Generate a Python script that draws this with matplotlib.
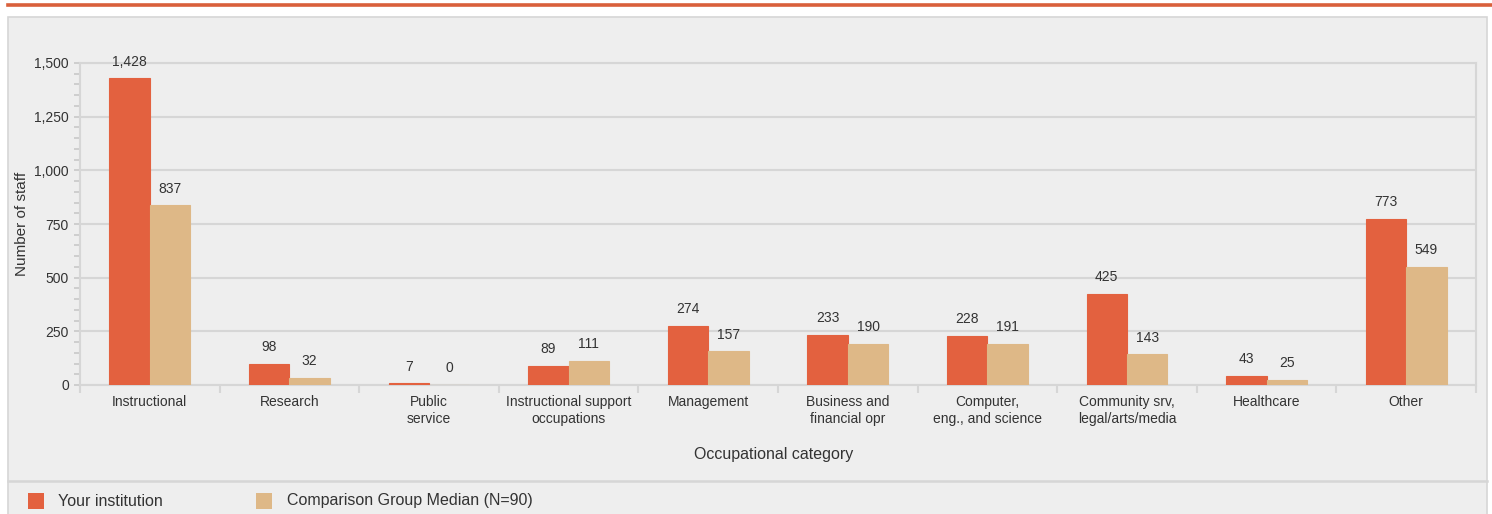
import matplotlib.pyplot as plt
from matplotlib.patches import Rectangle
from matplotlib.lines import Line2D
from matplotlib.ticker import FuncFormatter, MultipleLocator
import numpy as np

plt.rcParams['font.family'] = ['Liberation Sans', 'DejaVu Sans']

# --- data ---
categories = ['Instructional', 'Research', 'Public\nservice', 'Instructional support\noccupations',
              'Management', 'Business and\nfinancial opr', 'Computer,\neng., and science',
              'Community srv,\nlegal/arts/media', 'Healthcare', 'Other']
your_inst = [1428, 98, 7, 89, 274, 233, 228, 425, 43, 773]
comp_median = [837, 32, 0, 111, 157, 190, 191, 143, 25, 549]
series_names = ['Your institution', 'Comparison Group Median (N=90)']

RED = '#E3613F'
TAN = '#DEB887'
PANEL = '#EEEEEE'
LINE = '#D6D6D6'
TXT = '#333333'

W, H = 1492, 514
fig = plt.figure(figsize=(W / 100, H / 100), dpi=100)
fig.patch.set_facecolor('white')

# top accent line and grey panel (kept behind the axes)
fig.add_artist(Line2D([8 / W, 1], [1 - 4.5 / H, 1 - 4.5 / H], color='#D9603B', lw=2.6,
                      transform=fig.transFigure, zorder=-5))
fig.add_artist(Rectangle((8 / W, -0.01), (1487 - 8) / W, (H - 17) / H + 0.01,
                         transform=fig.transFigure, facecolor=PANEL, edgecolor=LINE, lw=1.2,
                         zorder=-5))
fig.add_artist(Line2D([8 / W, 1487 / W], [1 - 481 / H, 1 - 481 / H], color=LINE, lw=1.8,
                      transform=fig.transFigure, zorder=-4))

ax = fig.add_axes([80 / W, (H - 385) / H, 1396 / W, 322 / H])
ax.set_facecolor(PANEL)

x = np.arange(len(categories)) + 0.5
bw = 0.29
b1 = ax.bar(x - bw / 2, your_inst, bw, color=RED, edgecolor=RED, lw=0.8, zorder=3)
b2 = ax.bar(x + bw / 2, comp_median, bw, color=TAN, edgecolor=TAN, lw=0.8, zorder=3)

for bars, vals in ((b1, your_inst), (b2, comp_median)):
    for r, v in zip(bars, vals):
        ax.annotate(f'{v:,}', (r.get_x() + r.get_width() / 2, r.get_height()),
                    xytext=(0, 7), textcoords='offset points', ha='center', va='bottom',
                    fontsize=10, color=TXT)

ax.set_xlim(0, len(categories))
ax.set_ylim(0, 1500)
ax.yaxis.set_major_locator(MultipleLocator(250))
ax.yaxis.set_minor_locator(MultipleLocator(50))
ax.yaxis.set_major_formatter(FuncFormatter(lambda v, p: f'{int(v):,}'))
ax.grid(axis='y', which='major', color=LINE, lw=1.5, zorder=0)

ax.set_xticks(x)
ax.set_xticklabels(categories, fontsize=10, color=TXT)
ax.set_xticks(np.arange(len(categories) + 1), minor=True)
ax.tick_params(axis='x', which='major', length=0, pad=7.5)
ax.tick_params(axis='x', which='minor', length=6, color=LINE, width=1.5)
ax.tick_params(axis='y', which='both', length=4, color='#C8C8C8', width=1.2,
               labelsize=10, labelcolor=TXT, pad=4)

for s in ax.spines.values():
    s.set_color(LINE)
    s.set_linewidth(1.5)

# axis titles placed in figure pixels
fig.text(22 / W, 1 - 224 / H, 'Number of staff', rotation=90, fontsize=11, color=TXT,
         ha='center', va='center')
fig.text(774 / W, 1 - 455 / H, 'Occupational category', fontsize=11.5, color=TXT,
         ha='center', va='center')

# legend drawn as patches in figure pixels
leg_y = 1 - 501 / H
for px, tx, col, name in ((28, 58, RED, series_names[0]), (256, 287, TAN, series_names[1])):
    fig.add_artist(Rectangle((px / W, 1 - 509 / H), 16 / W, 16 / H, transform=fig.transFigure,
                             facecolor=col, edgecolor='none'))
    fig.text(tx / W, leg_y, name, fontsize=11.5, color=TXT, va='center', ha='left')

fig.savefig('out.png', dpi=100, facecolor='white')
